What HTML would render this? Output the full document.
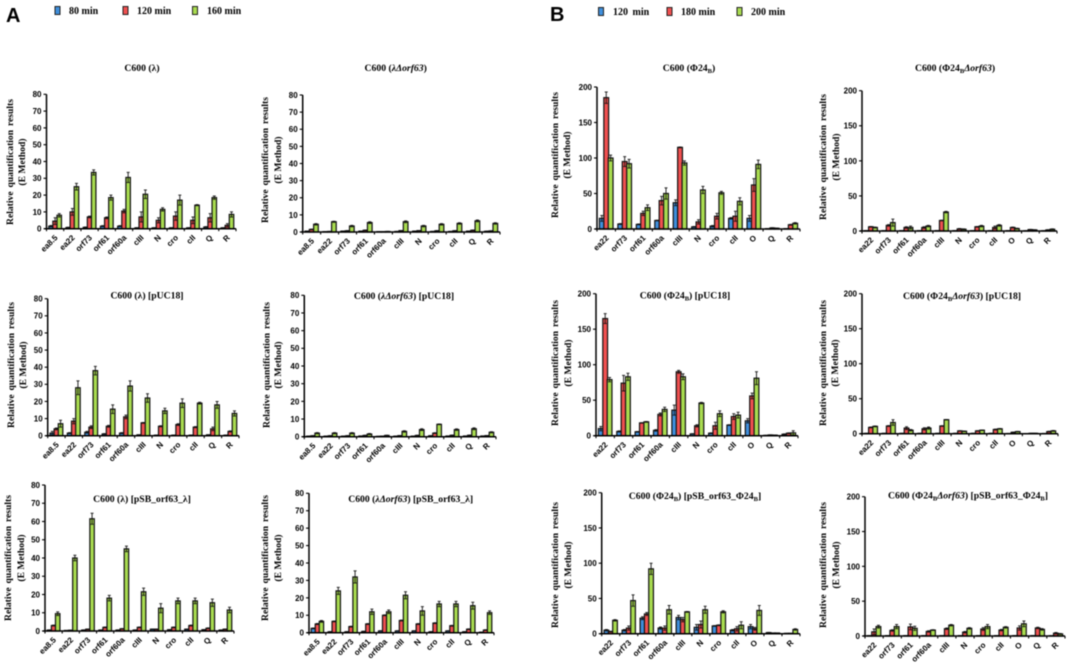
<!DOCTYPE html>
<html lang="en">
<head>
<meta charset="utf-8">
<title>Relative quantification results</title>
<style>
html,body{margin:0;padding:0;background:#fff;width:1070px;height:667px;overflow:hidden}
#figure{display:block;filter:blur(.4px)}
.tick{font:bold 8px "Liberation Sans",sans-serif;fill:#000}
.title{font:bold 9.7px "Liberation Serif",serif;fill:#000}
.ylab{font:bold 9.6px "Liberation Serif",serif;fill:#000}
.leg{font:bold 10px "Liberation Serif",serif;fill:#000}
.letter{font:bold 20px "Liberation Sans",sans-serif;fill:#000}
</style>
</head>
<body>
<svg id="figure" xmlns="http://www.w3.org/2000/svg" width="1070" height="667" viewBox="0 0 1070 667">
  <text class="letter" x="6" y="22">A</text>
  <text class="letter" x="550" y="21">B</text>
  <g>
    <rect x="55" y="6.5" width="5" height="8" fill="#3f8fdc" stroke="#222"/>
    <text class="leg" x="69" y="14">80 min</text>
    <rect x="123" y="6.5" width="5" height="8" fill="#f05050" stroke="#222"/>
    <text class="leg" x="137" y="14">120 min</text>
    <rect x="192.5" y="6.5" width="5" height="8" fill="#a9dc50" stroke="#222"/>
    <text class="leg" x="207" y="14">160 min</text>
  </g>
  <g>
    <rect x="598.5" y="7.5" width="5" height="8" fill="#3f8fdc" stroke="#222"/>
    <text class="leg" x="613" y="15" style="word-spacing:2px">120 min</text>
    <rect x="667" y="7.5" width="5" height="8" fill="#f05050" stroke="#222"/>
    <text class="leg" x="681" y="15">180 min</text>
    <rect x="737" y="7.5" width="5" height="8" fill="#a9dc50" stroke="#222"/>
    <text class="leg" x="751" y="15">200 min</text>
  </g>
</svg>
<script>
// ---- categories and tick labels ----
var categoriesLambda = ['ea8.5','ea22','orf73','orf61','orf60a','cIII','N','cro','cII','Q','R'];
var categoriesPhi = ['ea22','orf73','orf61','orf60a','cIII','N','cro','cII','O','Q','R'];
var ticksLambda = [0,10,20,30,40,50,60,70,80];
var ticksPhi = [0,50,100,150,200];

// ---- panel A1: C600 (lambda) ----
var a1Early = [1.5,0.7,0.8,1.5,1.5,0.5,0.5,0.5,0.5,1,0.5];
var a1Mid = [4.5,10,7,6.5,10.5,7,5,7.5,5,6.5,2];
var a1Late = [8,25,33.5,18.5,30.5,20.5,11.5,17,14,18.5,8.5];
var a1EarlyErr = [0.4,0.2,0.2,0.3,0.3,0.1,0.1,0.1,0.1,0.2,0.1];
var a1MidErr = [2,2,0.5,0.5,1,3,1.5,2.5,2,2.5,1];
var a1LateErr = [1,2,1.5,1.5,3,2.5,1,3,0.3,1,1.5];
// ---- panel A2: C600 (lambda delta orf63) ----
var a2Early = [0.5,0.2,0.5,0.5,0.2,0.3,0.5,0.3,0.3,0.5,0.4];
var a2Mid = [1.5,0.3,0.7,1,0.2,0.8,0.8,0.7,0.7,1,0.6];
var a2Late = [4.5,6,3.5,5.5,0.3,6,3.5,4.5,5,6.5,5];
var a2EarlyErr = [0.1,0,0.1,0.1,0,0.1,0.1,0.1,0.1,0.1,0.1];
var a2MidErr = [0.2,0.1,0.1,0.2,0,0.1,0.1,0.1,0.1,0.2,0.1];
var a2LateErr = [0.4,0.3,0.4,0.5,0.1,0.5,0.4,0.4,0.4,0.5,0.4];
// ---- panel A3: C600 (lambda) [pUC18] ----
var a3Early = [1.5,1.5,2,1,1.5,0.5,0.3,0.3,0.3,0.5,0.3];
var a3Mid = [4,8.5,5,5.5,11,7.5,5.5,6.5,5,4,2.5];
var a3Late = [7,28,38,15.5,29,22,14.5,19,19,18,13];
var a3EarlyErr = [1,0.3,0.5,0.2,0.3,0,0,0,0,0,0];
var a3MidErr = [0.5,1.5,0.8,0.5,1,0.2,0.3,0.5,0.3,1,0.3];
var a3LateErr = [2,4,2.5,2.5,3,2.5,1.5,2.5,0.5,2,1.5];
// ---- panel A4: C600 (lambda delta orf63) [pUC18] ----
var a4Early = [0.3,0.3,0.3,0.4,0.2,0.3,0.3,0.5,0.4,0.4,0.4];
var a4Mid = [0.5,0.5,0.5,0.7,0.3,0.6,0.7,2,0.8,0.8,0.6];
var a4Late = [2,2,2,1.5,0.7,3,4,7,4,4.5,2.5];
var a4EarlyErr = [0,0,0,0,0,0,0,0.1,0,0,0];
var a4MidErr = [0.1,0.1,0.1,0.1,0,0.1,0.1,0.2,0.1,0.1,0.1];
var a4LateErr = [0.3,0.3,0.3,0.3,0.1,0.4,0.5,0.2,0.4,0.5,0.3];
// ---- panel A5: C600 (lambda) [pSB_orf63_lambda] ----
var a5Early = [0.5,0.3,0.5,0.5,0.5,0.5,1,0.7,1,0.7,0.5];
var a5Mid = [3,0.4,1,2,1.2,2,1,2,3,1.5,1];
var a5Late = [9.5,40,61.5,18,45,21.5,12.5,16.5,16.5,15.5,11.5];
var a5EarlyErr = [0.1,0,0.1,0.1,0.1,0.1,0.1,0.1,0.1,0.1,0.1];
var a5MidErr = [0.2,0,0.1,0.2,0.1,0.2,0.1,0.2,0.2,0.2,0.1];
var a5LateErr = [1,1.5,3,1.5,1.5,2,2.5,1.5,1.5,2,1.5];
// ---- panel A6: C600 (lambda delta orf63) [pSB_orf63_lambda] ----
var a6Early = [2.5,0.5,0.5,0.7,1,1,1,0.5,1,0.5,0.3];
var a6Mid = [5,6.5,3.5,5,10,7,5,5.5,4,2,1.5];
var a6Late = [6.5,24,32,12,12,21.5,12.5,16.5,16.5,15.5,11.5];
var a6EarlyErr = [0.2,0.1,0.1,0.1,0.1,0.1,0.1,0.1,0.1,0.1,0];
var a6MidErr = [0.3,0.2,0.2,0.2,0.2,0.2,0.2,0.2,0.2,0.2,0.2];
var a6LateErr = [0.5,2,3.5,1.5,1,2,2.5,1.5,1.5,2,1];
// ---- panel B1: C600 (Phi24B) ----
var b1Early = [15,7,6.5,12,37,3,4,15,15,0.5,0.5];
var b1Mid = [185,95,22,40,115,10,18,18,62,1.5,6];
var b1Late = [100,92,30,50,93,55,51,39,91,1,8];
var b1EarlyErr = [4,0.5,0.5,0.3,4,0.5,1,1,4,0,0];
var b1MidErr = [8,7,3,6,0.5,3,4,7,9,0.2,0.5];
var b1LateErr = [4,6,4,8,3,5,2,5,6,0.3,1];
// ---- panel B2: C600 (Phi24B delta orf63) ----
var b2Early = [0.5,0.5,0.5,0.5,0.5,0.5,0.5,0.5,0.5,0.3,0.3];
var b2Mid = [6,8,5,5,15,3,6,5,5,2,1.5];
var b2Late = [5,12,5,7,27,2.5,7,8,3.5,1.5,2.5];
var b2EarlyErr = [0,0,0,0,0,0,0,0,0,0,0];
var b2MidErr = [0.5,1,1,1,0.3,0.5,0.5,2,0.5,0.3,0.3];
var b2LateErr = [0.5,5,2,1,1,0.5,1,1,0.5,0.3,0.5];
// ---- panel B3: C600 (Phi24B) [pUC18] ----
var b3Early = [10,6,5.5,7.5,36,2.5,3.5,15,21,0.5,2];
var b3Mid = [165,74,18,30,90,14,14,27,56,1,3.5];
var b3Late = [79,83,19.5,37,83,46,31,29,81,0.8,4];
var b3EarlyErr = [3,0.8,0.5,1,7,0.3,0.5,0.5,3,0,0.5];
var b3MidErr = [7,11,0.3,2,2,1.5,5,4,4,0.2,0.5];
var b3LateErr = [3,5,0.5,3,4,1,4,4,9,0.2,3];
// ---- panel B4: C600 (Phi24B delta orf63) [pUC18] ----
var b4Early = [0.5,0.5,0.5,0.5,0.5,0.5,0.5,0.5,0.3,0.2,0.3];
var b4Mid = [9,11,8,7,11,4,4,6,2,0.5,3];
var b4Late = [10.5,16,5,8,20,3.5,5,7,3,0.5,4];
var b4EarlyErr = [0,0,0,0,0,0,0,0,0,0,0];
var b4MidErr = [0.5,0.5,2,1.5,0.3,0.3,0.3,0.5,0.3,0.1,0.5];
var b4LateErr = [0.5,4,1,1.5,0.3,0.3,0.3,0.5,0.3,0.1,0.5];
// ---- panel B5: C600 (Phi24B) [pSB_orf63_Phi24B] ----
var b5Early = [5,5,22,8,23,9,11,5,10,1.5,0.5];
var b5Mid = [3,8,28,8,20,13,12,7,7,1,0.5];
var b5Late = [19,47,92,34,31,34,31,12,33,1,6];
var b5EarlyErr = [1,1,2,1.5,3,4,0.5,1,3,0.3,0];
var b5MidErr = [0.5,3,2,3,3,5,0.5,3,2,0,0];
var b5LateErr = [1,8,8,6,0.5,5,1.5,5,7,0,1];
// ---- panel B6: C600 (Phi24B delta orf63) [pSB_orf63_Phi24B] ----
var b6Early = [0.5,0.5,0.5,0.5,0.5,0.5,0.5,0.5,0.5,0.5,0.3];
var b6Mid = [6,8,13,6.5,10.5,5.5,10,8.5,11.5,11.5,4];
var b6Late = [13.5,13.5,11,8.5,15.5,11,13.5,12.5,17.5,9.5,3];
var b6EarlyErr = [0,0,0,0,0,0,0,0,0,0,0];
var b6MidErr = [4,1,4,1,1,1,2,1,3,1,1];
var b6LateErr = [2,3,3,0.5,1,1,3,1,4,1,0.5];

var SVGNS = 'http://www.w3.org/2000/svg';
var figure = document.getElementById('figure');
var seriesColors = ['#3f8fdc','#f05050','#a9dc50'];
var sub = function(s){return '<tspan dy="2" font-size="6.5">'+s+'</tspan><tspan dy="-2">\u200b</tspan>';};
var ital = function(s){return '<tspan font-style="italic">'+s+'</tspan>';};
var Phi = '\u03a624'+sub('B');

function make(tag, parent, attrs){
  var el = document.createElementNS(SVGNS, tag);
  for (var k in attrs) el.setAttribute(k, attrs[k]);
  parent.appendChild(el);
  return el;
}

function drawPanel(p){
  var g = make('g', figure, {});
  
  

  var n = p.cats.length;
  var yMax = p.ticks[p.ticks.length-1];
  var yScale = function(v){ return p.y0 - v/yMax*(p.y0-p.yTop); };
  var band = (p.xR-p.xL)/n;
  var xScale = function(i){ return p.xL + (i+0.5)*band; };
  var barW = band*0.26;

  // title
  var title = make('text', g, {'class':'title', x:p.tx, y:p.ty+3, 'text-anchor':'middle'});
  
  
  title.innerHTML = p.title;

  // y axis title, two lines
  var yl1 = make('text', g, {'class':'ylab', transform:'translate('+(p.lx1+3)+','+p.ly+') rotate(-90)', 'text-anchor':'middle', 'word-spacing':'1.5'});
  
  
  yl1.textContent = 'Relative quantification  results';
  var yl2 = make('text', g, {'class':'ylab', transform:'translate('+(p.lx2+3)+','+p.ly+') rotate(-90)', 'text-anchor':'middle'});
  
  
  yl2.textContent = '(E Method)';

  // bars and error bars
  var groups = [[p.s1,p.e1],[p.s2,p.e2],[p.s3,p.e3]];
  groups.forEach(function(pair, s){
    pair[0].forEach(function(v, i){
      var cx = xScale(i) + (s-1)*barW*0.92;
      var top = yScale(v);
      var bar = make('rect', g, {x:cx-barW/2, y:top, width:barW, height:Math.max(0,p.y0-top), fill:seriesColors[s], stroke:'#111', 'stroke-width':1.2});
      
      
      var err = pair[1][i];
      var up = yScale(v+err), lo = yScale(Math.max(0,v-err));
      var whisker = make('path', g, {d:'M'+cx+' '+up+'V'+lo+'M'+(cx-1.5)+' '+up+'h3M'+(cx-1.5)+' '+lo+'h3', stroke:'#111', 'stroke-width':1, fill:'none', opacity:0.9});
      
      
    });
  });

  // axes
  var yAxis = make('line', g, {x1:p.xL, x2:p.xL, y1:p.yTop, y2:p.y0, stroke:'#000', 'stroke-width':1.5});
  
  
  var xAxis = make('line', g, {x1:p.xL-2, x2:p.xR, y1:p.y0, y2:p.y0, stroke:'#000', 'stroke-width':1.5});
  
  

  p.ticks.forEach(function(t){
    var y = yScale(t);
    var mark = make('line', g, {x1:p.xL-3, x2:p.xL, y1:y, y2:y, stroke:'#000', 'stroke-width':1.1});
    
    
    var lab = make('text', g, {'class':'tick', x:p.xL-5, y:y+2.9, 'text-anchor':'end'});
    
    
    lab.textContent = t;
  });

  for (var b = 0; b <= n; b++){
    var bx = p.xL + b*band;
    var xt = make('line', g, {x1:bx, x2:bx, y1:p.y0, y2:p.y0+2.5, stroke:'#000', 'stroke-width':1.1});
    
    
  }
  p.cats.forEach(function(c, i){
    var lx = xScale(i)+3, ly = p.y0+9.5;
    var lab = make('text', g, {'class':'tick', x:lx, y:ly, 'text-anchor':'end', transform:'rotate(-45 '+lx+' '+ly+')'});
    
    
    lab.textContent = c;
  });
}

// ---- panel layout ----
drawPanel({cats:categoriesLambda,ticks:ticksLambda,s1:a1Early,s2:a1Mid,s3:a1Late,e1:a1EarlyErr,e2:a1MidErr,e3:a1LateErr,
  xL:46.5,xR:236,y0:228.7,yTop:94.3,tx:142,ty:68,lx1:10,lx2:22,ly:162,title:'C600 (\u03bb)'});
drawPanel({cats:categoriesLambda,ticks:ticksLambda,s1:a2Early,s2:a2Mid,s3:a2Late,e1:a2EarlyErr,e2:a2MidErr,e3:a2LateErr,
  xL:302.7,xR:500,y0:232,yTop:95,tx:395.7,ty:68,lx1:265,lx2:278,ly:160,title:'C600 ('+ital('\u03bb\u0394orf63')+')'});
drawPanel({cats:categoriesLambda,ticks:ticksLambda,s1:a3Early,s2:a3Mid,s3:a3Late,e1:a3EarlyErr,e2:a3MidErr,e3:a3LateErr,
  xL:47.7,xR:239,y0:435.7,yTop:298.7,tx:147,ty:295.7,lx1:11,lx2:23,ly:365,title:'C600 (\u03bb) [pUC18]'});
drawPanel({cats:categoriesLambda,ticks:ticksLambda,s1:a4Early,s2:a4Mid,s3:a4Late,e1:a4EarlyErr,e2:a4MidErr,e3:a4LateErr,
  xL:304.3,xR:496,y0:436.7,yTop:295.3,tx:404,ty:296,lx1:266.7,lx2:278,ly:365,title:'C600 ('+ital('\u03bb\u0394orf63')+') [pUC18]'});
drawPanel({cats:categoriesLambda,ticks:ticksLambda,s1:a5Early,s2:a5Mid,s3:a5Late,e1:a5EarlyErr,e2:a5MidErr,e3:a5LateErr,
  xL:45,xR:234,y0:631,yTop:485,tx:142,ty:499,lx1:8,lx2:21,ly:558,title:'C600 (\u03bb) [pSB_orf63_\u03bb]'});
drawPanel({cats:categoriesLambda,ticks:ticksLambda,s1:a6Early,s2:a6Mid,s3:a6Late,e1:a6EarlyErr,e2:a6MidErr,e3:a6LateErr,
  xL:309,xR:494,y0:632.7,yTop:493.3,tx:410.7,ty:499,lx1:265,lx2:278,ly:558,title:'C600 ('+ital('\u03bb\u0394orf63')+') [pSB_orf63_\u03bb]'});
drawPanel({cats:categoriesPhi,ticks:ticksPhi,s1:b1Early,s2:b1Mid,s3:b1Late,e1:b1EarlyErr,e2:b1MidErr,e3:b1LateErr,
  xL:597,xR:800,y0:229,yTop:87,tx:689,ty:68,lx1:555,lx2:567,ly:155,title:'C600 ('+Phi+')'});
drawPanel({cats:categoriesPhi,ticks:ticksPhi,s1:b2Early,s2:b2Mid,s3:b2Late,e1:b2EarlyErr,e2:b2MidErr,e3:b2LateErr,
  xL:862,xR:1057,y0:231,yTop:90.7,tx:955,ty:68,lx1:823,lx2:836,ly:157,title:'C600 ('+Phi+ital('\u0394orf63')+')'});
drawPanel({cats:categoriesPhi,ticks:ticksPhi,s1:b3Early,s2:b3Mid,s3:b3Late,e1:b3EarlyErr,e2:b3MidErr,e3:b3LateErr,
  xL:596,xR:798,y0:435.7,yTop:293.7,tx:685,ty:295.7,lx1:555,lx2:568,ly:363,title:'C600 ('+Phi+') [pUC18]'});
drawPanel({cats:categoriesPhi,ticks:ticksPhi,s1:b4Early,s2:b4Mid,s3:b4Late,e1:b4EarlyErr,e2:b4MidErr,e3:b4LateErr,
  xL:862,xR:1058,y0:433.7,yTop:293.7,tx:962,ty:296,lx1:823,lx2:835,ly:363,title:'C600 ('+Phi+ital('\u0394orf63')+') [pUC18]'});
drawPanel({cats:categoriesPhi,ticks:ticksPhi,s1:b5Early,s2:b5Mid,s3:b5Late,e1:b5EarlyErr,e2:b5MidErr,e3:b5LateErr,
  xL:601.7,xR:800,y0:633.7,yTop:492.7,tx:695,ty:496,lx1:555,lx2:568,ly:565,title:'C600 ('+Phi+') [pSB_orf63_'+Phi+']'});
drawPanel({cats:categoriesPhi,ticks:ticksPhi,s1:b6Early,s2:b6Mid,s3:b6Late,e1:b6EarlyErr,e2:b6MidErr,e3:b6LateErr,
  xL:865,xR:1065,y0:636,yTop:496.7,tx:968,ty:495.7,lx1:823,lx2:836,ly:565,title:'C600 ('+Phi+ital('\u0394orf63')+') [pSB_orf63_'+Phi+']'});
</script>
</body>
</html>
